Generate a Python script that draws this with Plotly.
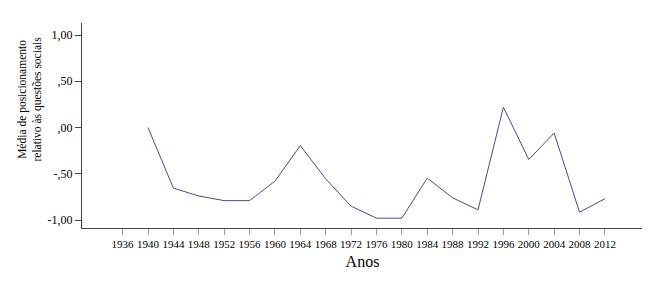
import plotly.graph_objects as go

years = [1940, 1944, 1948, 1952, 1956, 1960, 1964, 1968, 1972, 1976, 1980,
         1984, 1988, 1992, 1996, 2000, 2004, 2008, 2012]
values = [0.00, -0.655, -0.74, -0.79, -0.79, -0.58, -0.195, -0.555, -0.85, -0.98, -0.98,
          -0.547, -0.76, -0.89, 0.22, -0.345, -0.06, -0.915, -0.77]

x_ticks = list(range(1936, 2013, 4))
y_tickvals = [1.0, 0.5, 0.0, -0.5, -1.0]
y_ticktext = ["1,00", ",50", ",00", "-,50", "-1,00"]

font_family = "Liberation Serif"

fig = go.Figure()
fig.add_trace(go.Scatter(x=years, y=values, mode="lines",
                         line=dict(color="#4a4a8e", width=1), showlegend=False))

fig.update_layout(
    width=642, height=274,
    margin=dict(l=74, r=7, t=15, b=54),
    paper_bgcolor="white", plot_bgcolor="white",
    font=dict(family=font_family, color="black"),
    xaxis=dict(range=[1929.6, 2018], tickmode="array", tickvals=x_ticks,
               ticktext=[str(t) for t in x_ticks],
               showgrid=False, zeroline=False, showline=True, linecolor="#444", linewidth=1,
               ticks="outside", ticklen=6, tickcolor="#999", tickfont=dict(size=11, family=font_family),
               title=dict(text="Anos", font=dict(size=16, family=font_family), standoff=6)),
    yaxis=dict(range=[-1.086, 1.13], tickmode="array", tickvals=y_tickvals, ticktext=y_ticktext,
               showgrid=False, zeroline=False, showline=True, linecolor="#444", linewidth=1,
               ticks="outside", ticklen=6, tickcolor="#444", tickfont=dict(size=12, family=font_family)),
)

fig.add_annotation(
    text="Média de posicionamento<br>relativo às questões sociais",
    xref="paper", yref="paper", x=-0.0918, y=0.629, xanchor="center", yanchor="middle",
    textangle=-90, showarrow=False, font=dict(size=11.5, family=font_family, color="black"),
)

fig.write_html("out.html")
